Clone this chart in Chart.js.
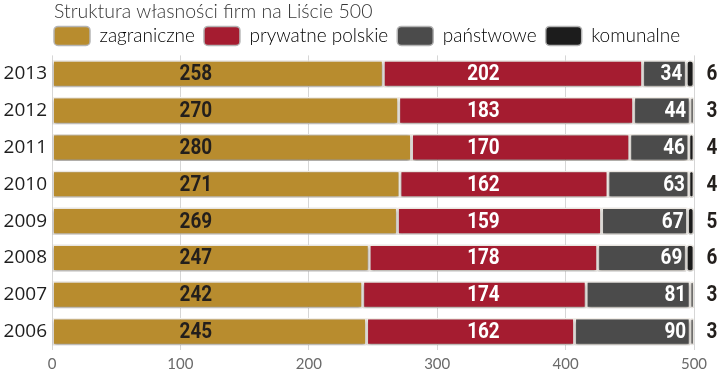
<!DOCTYPE html>
<html>
<head>
<meta charset="utf-8">
<script src="https://cdn.jsdelivr.net/npm/chart.js@4.4.0/dist/chart.umd.min.js"></script>
<style>
  html, body { margin: 0; padding: 0; background: #fff; }
  #wrap { width: 720px; height: 369px; }
</style>
</head>
<body>
<div id="wrap"><canvas id="c"></canvas></div>
<script>
// Struktura własności firm na Liście 500
const years = ['2013', '2012', '2011', '2010', '2009', '2008', '2007', '2006'];
const zagraniczne = [258, 270, 280, 271, 269, 247, 242, 245];
const prywatne = [202, 183, 170, 162, 159, 178, 174, 162];
const panstwowe = [34, 44, 46, 63, 67, 69, 81, 90];
const komunalne = [6, 3, 4, 4, 5, 6, 3, 3];
const xTicks = [0, 100, 200, 300, 400, 500];

const COLORS = ['#b88c2e', '#a51c30', '#4b4b4b', '#1c1c1c'];
const NUM_FONT = 'bold 22px Roboto, "DejaVu Sans", sans-serif';
const NUM_SQUEEZE = 0.86;
// the first two columns of numbers sit in fixed columns, not segment centres
const COL_FOREIGN = 112;
const COL_PRIVATE = 336;

const shadowPlugin = {
  id: 'barShadow',
  beforeDatasetDraw(chart) {
    const ctx = chart.ctx;
    ctx.save();
    ctx.shadowColor = 'rgba(0,0,0,0.45)';
    ctx.shadowBlur = 3;
    ctx.shadowOffsetX = 0;
    ctx.shadowOffsetY = 1;
  },
  afterDatasetDraw(chart) {
    chart.ctx.restore();
  }
};

// nudge title and legend so they line up with the plot's left edge
const nudgePlugin = {
  id: 'nudge',
  afterLayout(chart) {
    if (chart.legend) { chart.legend.left += 45; chart.legend.right += 45; }
    if (chart.titleBlock) { chart.titleBlock.left += 2; chart.titleBlock.right += 2; }
  }
};

const labelPlugin = {
  id: 'valueLabels',
  afterDatasetsDraw(chart) {
    const ctx = chart.ctx;
    const xs = chart.scales.x;
    const put = (txt, x, y, align, color) => {
      ctx.save();
      ctx.translate(x, y);
      ctx.scale(NUM_SQUEEZE, 1);
      ctx.font = NUM_FONT;
      ctx.textBaseline = 'middle';
      ctx.textAlign = align;
      ctx.fillStyle = color;
      ctx.fillText(txt, 0, 0);
      ctx.restore();
    };
    chart.data.datasets.forEach((ds, i) => {
      const meta = chart.getDatasetMeta(i);
      meta.data.forEach((bar, j) => {
        const v = String(ds.data[j]);
        const y = bar.y + 1;
        if (i === 0) put(v, xs.getPixelForValue(COL_FOREIGN), y, 'center', '#231f1c');
        else if (i === 1) put(v, xs.getPixelForValue(COL_PRIVATE), y, 'center', '#fff');
        else if (i === 2) put(v, bar.x - 4, y, 'right', '#fff');
        else put(v, chart.chartArea.right + 18, y, 'center', '#231f1c');
      });
    });
  }
};

const mkSet = (label, data, color) => ({
  label,
  data,
  backgroundColor: color,
  borderColor: '#f4f0ea',
  borderWidth: 1.5,
  borderRadius: 3,
  borderSkipped: false,
  barPercentage: 0.92,
  categoryPercentage: 0.8
});

new Chart(document.getElementById('c'), {
  type: 'bar',
  data: {
    labels: years,
    datasets: [
      mkSet('zagraniczne', zagraniczne, COLORS[0]),
      mkSet('prywatne polskie', prywatne, COLORS[1]),
      mkSet('państwowe', panstwowe, COLORS[2]),
      mkSet('komunalne', komunalne, COLORS[3])
    ]
  },
  options: {
    indexAxis: 'y',
    responsive: true,
    maintainAspectRatio: false,
    animation: false,
    layout: { padding: { left: 0, right: 26, top: 0, bottom: 0 } },
    plugins: {
      title: {
        display: true,
        text: 'Struktura własności firm na Liście 500',
        align: 'start',
        fullSize: false,
        color: '#363636',
        font: { family: 'Lato, "Open Sans", sans-serif', size: 19.5, weight: 300 },
        padding: { top: 0, bottom: -6 }
      },
      legend: {
        display: true,
        align: 'start',
        fullSize: true,
        labels: {
          boxWidth: 36,
          boxHeight: 19,
          useBorderRadius: true,
          borderRadius: 4,
          padding: 9,
          color: '#2a2a2a',
          font: { family: 'Lato, "Open Sans", sans-serif', size: 19, weight: 300 },
          generateLabels(chart) {
            return chart.data.datasets.map((ds, i) => ({
              text: ds.label,
              fillStyle: ds.backgroundColor,
              strokeStyle: '#b5b5b5',
              lineWidth: 1.5,
              borderRadius: 4,
              datasetIndex: i,
              hidden: false
            }));
          }
        }
      },
      tooltip: { enabled: false }
    },
    scales: {
      x: {
        stacked: true,
        min: 0,
        max: 500,
        afterBuildTicks(scale) { scale.ticks = xTicks.map(v => ({ value: v })); },
        afterFit(scale) { scale.height = 19; },
        grid: { color: '#d6d6d6', drawTicks: false },
        border: { display: false },
        ticks: { color: '#6a6a6a', padding: 5, font: { family: 'Lato, "Open Sans", sans-serif', size: 15 } }
      },
      y: {
        stacked: true,
        afterFit(scale) { scale.width = 52; },
        grid: { display: false, drawTicks: false, tickLength: 0 },
        border: { display: false },
        ticks: { color: '#1e1e1e', padding: 5, font: { family: '"Open Sans", sans-serif', size: 19 } }
      }
    }
  },
  plugins: [shadowPlugin, nudgePlugin, labelPlugin]
});
</script>
</body>
</html>
